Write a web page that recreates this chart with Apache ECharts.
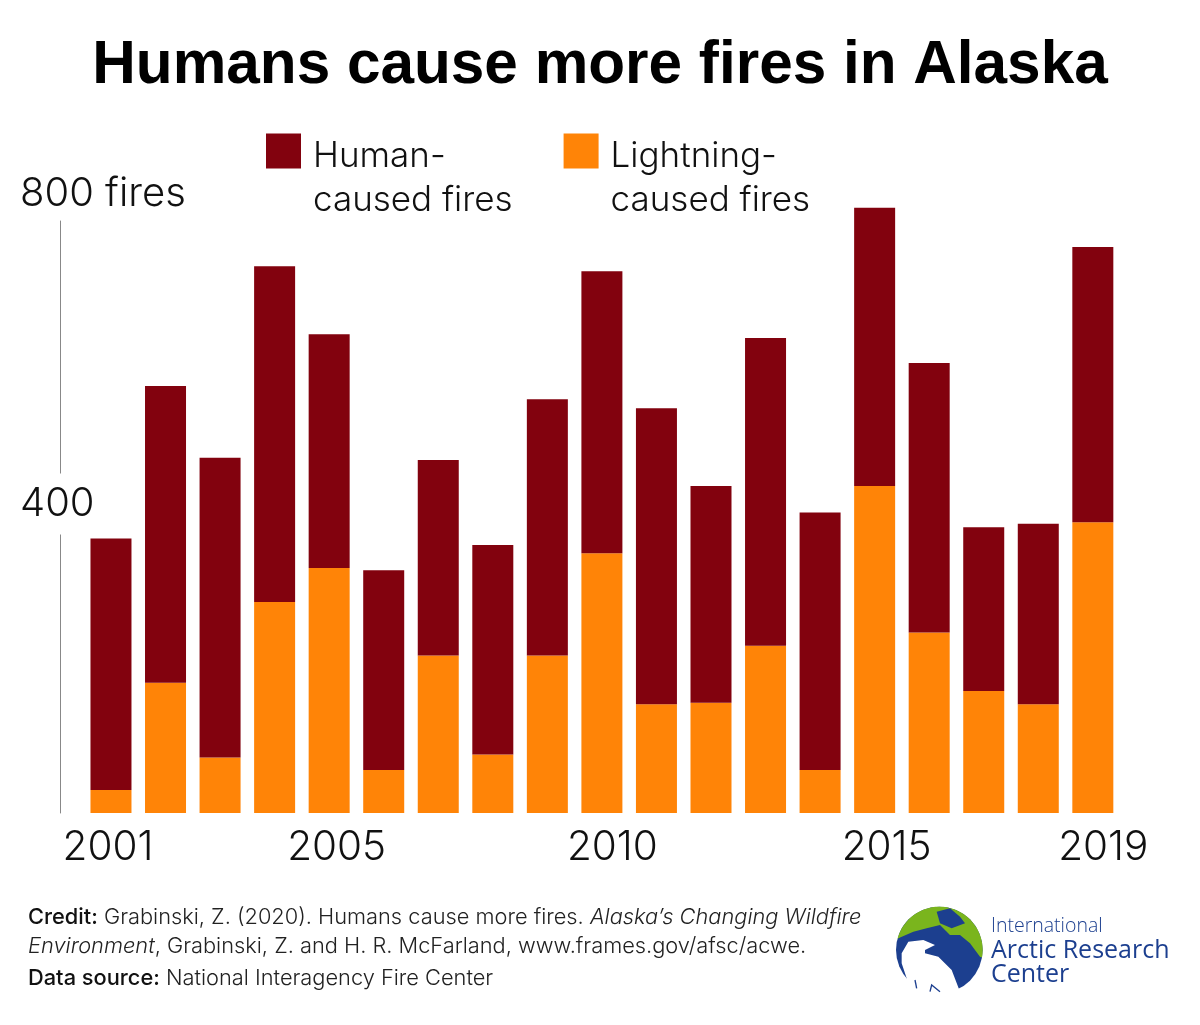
<!DOCTYPE html>
<html>
<head>
<meta charset="utf-8">
<title>Humans cause more fires in Alaska</title>
<script src="https://cdn.jsdelivr.net/npm/echarts@6/dist/echarts.min.js"></script>
<style>
  html, body { margin: 0; padding: 0; background: #fff; }
  #chart { width: 1200px; height: 1025px; }
</style>
</head>
<body>
<div id="chart"></div>
<script>
const years = ['2001','2002','2003','2004','2005','2006','2007','2008','2009','2010','2011','2012','2013','2014','2015','2016','2017','2018','2019']
const lightning = [31,176,75,285,331,58,213,79,213,351,147,149,226,58,442,244,165,147,393]
const human = [340,401,405,454,316,270,264,283,346,381,400,293,416,348,376,364,221,244,372]
const labelledYears = ['2001','2005','2010','2015','2019']

const LIGHT = 'Inter'
const DARK_RED = '#82020e'
const ORANGE = '#ff8407'
const LOGO_BLUE = '#1c3f8f'
const LOGO_GREEN = '#7ab51d'

// points along the globe edge, for the logo only
function globeEdge(fromDeg, toDeg) {
  const pts = []
  for (let a = fromDeg; a <= toDeg; a += 5) {
    const r = a * Math.PI / 180
    pts.push([178 + 130 * Math.cos(r), 180 + 130 * Math.sin(r)])
  }
  return pts
}

const creditRich = {
  b: { fontFamily: LIGHT, fontWeight: 500, fontSize: 21.8, fill: '#111' },
  n: { fontFamily: LIGHT, fontWeight: 300, fontSize: 21.8, fill: '#222' },
  i: { fontFamily: LIGHT, fontWeight: 300, fontStyle: 'italic', fontSize: 21.8, fill: '#222' }
}

const chart = echarts.init(document.getElementById('chart'), null, { renderer: 'canvas' })

const option = {
  backgroundColor: '#fff',
  animation: false,
  title: {
    text: 'Humans cause more fires in Alaska',
    left: 'center',
    top: 31,
    textStyle: { fontFamily: 'Liberation Sans', fontWeight: 'bold', fontSize: 60.3, color: '#000' }
  },
  legend: {
    left: 261,
    top: 97,
    itemWidth: 35,
    itemHeight: 35,
    itemGap: 51,
    icon: 'rect',
    selectedMode: false,
    data: ['Human-\ncaused fires', 'Lightning-\ncaused fires'],
    // blank first line keeps the swatch level with the first text line
    formatter: name => {
      const [first, second] = name.split('\n')
      return `{blank| }\n{t|${first}}\n{t|${second}}`
    },
    textStyle: {
      padding: [0, 0, 0, 7],
      rich: {
        blank: { fontSize: 10, lineHeight: 54 },
        t: { fontFamily: LIGHT, fontWeight: 300, fontSize: 35, lineHeight: 44, color: '#111' }
      }
    }
  },
  grid: { left: 83.7, right: 79.9, top: 221, bottom: 212 },
  xAxis: {
    type: 'category',
    data: years,
    axisLine: { show: false },
    axisTick: { show: false },
    axisLabel: {
      interval: (i, v) => labelledYears.includes(v),
      margin: 14,
      fontFamily: LIGHT, fontWeight: 300, fontSize: 40.5, color: '#111',
      formatter: v => `{y${v}|${v}}`,
      rich: {
        y2001: { padding: [0, 6, 0, 0] },
        y2005: { padding: [0, 0, 0, 15] },
        y2010: { padding: [0, 0, 0, 21] },
        y2015: { padding: [0, 0, 0, 24] },
        y2019: { padding: [0, 0, 0, 21] }
      }
    }
  },
  yAxis: {
    type: 'value',
    min: 0,
    max: 800,
    interval: 400,
    offset: 23.7,
    splitLine: { show: false },
    axisTick: { show: false },
    axisLine: { show: true, lineStyle: { color: '#888', width: 1 } },
    axisLabel: {
      inside: true,
      margin: -40,
      align: 'left',
      verticalAlign: 'middle',
      formatter: v => {
        if (v === 800) return '{top|800 fires}'
        if (v === 400) return '{mid|400}\n{gap| }'
        return ''
      },
      rich: {
        top: { fontFamily: LIGHT, fontWeight: 300, fontSize: 40, color: '#111', lineHeight: 40, padding: [0, 0, 54, 0] },
        mid: { fontFamily: LIGHT, fontWeight: 300, fontSize: 40, color: '#111', height: 61, lineHeight: 61, backgroundColor: '#fff' },
        gap: { fontSize: 10, lineHeight: 26 }
      }
    }
  },
  series: [
    {
      name: 'Lightning-\ncaused fires',
      type: 'bar',
      stack: 'fires',
      barWidth: 41,
      clip: false,
      itemStyle: { color: ORANGE },
      data: lightning
    },
    {
      name: 'Human-\ncaused fires',
      type: 'bar',
      stack: 'fires',
      barWidth: 41,
      clip: false,
      itemStyle: { color: DARK_RED },
      data: human
    }
  ],
  graphic: [
    // credit lines
    {
      type: 'text', x: 28, y: 906,
      style: {
        text: '{b|Credit:}{n| Grabinski, Z. (2020). Humans cause more fires. }{i|Alaska\u2019s Changing Wildfire}',
        rich: creditRich
      }
    },
    {
      type: 'text', x: 28, y: 935,
      style: {
        text: '{i|Environment}{n|, Grabinski, Z. and H. R. McFarland, www.frames.gov/afsc/acwe.}',
        rich: creditRich
      }
    },
    {
      type: 'text', x: 28, y: 967,
      style: {
        text: '{b|Data source:}{n| National Interagency Fire Center}',
        rich: creditRich
      }
    },
    // logo, drawn in the coordinates of a 3x crop
    {
      type: 'group', x: 880, y: 890, scaleX: 1 / 3, scaleY: 1 / 3,
      children: [
        { type: 'circle', shape: { cx: 178, cy: 180, r: 130 }, style: { fill: LOGO_BLUE } },
        { type: 'polygon', shape: { points: globeEdge(195, 370).concat([[300,200],[270,160],[240,135],[210,135],[180,105],[140,115],[100,125],[55,145]]) }, style: { fill: LOGO_GREEN } },
        { type: 'polygon', shape: { points: [[170,65],[210,55],[240,80],[255,100],[215,115],[180,100]] }, style: { fill: LOGO_BLUE } },
        { type: 'polygon', shape: { points: [[85,155],[130,150],[165,165],[135,180],[135,190],[175,200],[215,240],[238,300],[200,325],[90,325],[80,265],[65,220],[65,190]] }, style: { fill: '#fff' } },
        { type: 'polyline', shape: { points: [[105,270],[110,295]] }, style: { stroke: LOGO_BLUE, lineWidth: 4, fill: null } },
        { type: 'polyline', shape: { points: [[150,305],[155,285],[180,305]] }, style: { stroke: LOGO_BLUE, lineWidth: 4, fill: null } }
      ]
    },
    { type: 'text', x: 991, y: 916, style: { text: 'International', fontFamily: 'Open Sans', fontWeight: 300, fontSize: 19.5, fill: LOGO_BLUE } },
    { type: 'text', x: 991, y: 938, style: { text: 'Arctic Research', fontFamily: 'Open Sans', fontWeight: 400, fontSize: 25, fill: LOGO_BLUE } },
    { type: 'text', x: 991, y: 962, style: { text: 'Center', fontFamily: 'Open Sans', fontWeight: 400, fontSize: 25, fill: LOGO_BLUE } }
  ]
}

chart.setOption(option)
</script>
</body>
</html>
